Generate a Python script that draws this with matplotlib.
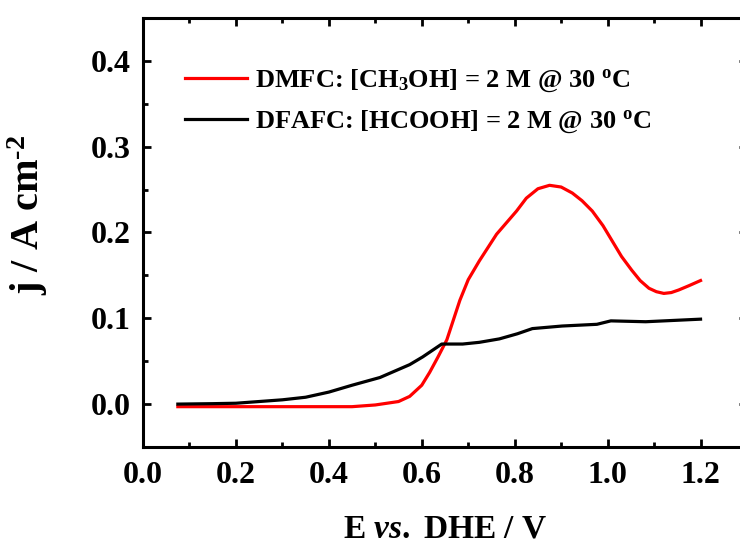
import matplotlib
matplotlib.use("Agg")
import matplotlib.pyplot as plt
from matplotlib.ticker import MultipleLocator

plt.rcParams['font.family'] = ['Liberation Serif', 'DejaVu Serif']
plt.rcParams['font.weight'] = 'bold'
plt.rcParams['axes.labelweight'] = 'bold'
plt.rcParams['mathtext.fontset'] = 'custom'
plt.rcParams['mathtext.rm'] = 'Liberation Serif:bold'
plt.rcParams['mathtext.it'] = 'Liberation Serif:italic:bold'
plt.rcParams['mathtext.bf'] = 'Liberation Serif:bold'

# DMFC (methanol) curve
e_dmfc = [0.075, 0.15, 0.25, 0.35, 0.45, 0.50, 0.55, 0.574, 0.60, 0.617, 0.635, 0.654,
          0.668, 0.682, 0.70, 0.724, 0.761, 0.804, 0.825, 0.85, 0.875, 0.90, 0.924, 0.945,
          0.967, 0.99, 1.01, 1.03, 1.052, 1.07, 1.089, 1.105, 1.121, 1.137, 1.153, 1.175, 1.20]
j_dmfc = [-0.003, -0.003, -0.003, -0.003, -0.003, -0.001, 0.003, 0.009, 0.022, 0.037, 0.055,
          0.075, 0.098, 0.121, 0.145, 0.167, 0.198, 0.225, 0.240, 0.251, 0.255, 0.253, 0.246,
          0.237, 0.225, 0.208, 0.190, 0.172, 0.156, 0.144, 0.135, 0.131, 0.129, 0.130, 0.133,
          0.138, 0.144]

# DFAFC (formic acid) curve
e_dfafc = [0.075, 0.15, 0.20, 0.25, 0.30, 0.35, 0.40, 0.45, 0.51, 0.574, 0.602, 0.643,
           0.688, 0.724, 0.767, 0.806, 0.838, 0.902, 0.977, 1.007, 1.082, 1.20]
j_dfafc = [0.0, 0.0005, 0.001, 0.003, 0.005, 0.008, 0.014, 0.022, 0.031, 0.046, 0.055, 0.070,
           0.070, 0.072, 0.076, 0.082, 0.088, 0.091, 0.093, 0.097, 0.096, 0.099]

labels = [r'DMFC: [CH$_3$OH] = 2 M @ 30 $^{\mathrm{o}}$C',
          r'DFAFC: [HCOOH] = 2 M @ 30 $^{\mathrm{o}}$C']

fig = plt.figure(figsize=(7.4, 5.47), dpi=100)
ax = fig.add_axes([143/740, 1 - 447/547, 604/740, 429/547])

ax.plot(e_dmfc, j_dmfc, color='#ff0000', lw=2.3, label=labels[0])
ax.plot(e_dfafc, j_dfafc, color='black', lw=2.3, label=labels[1])

ax.set_xlim(0, 1.3)
ax.set_ylim(-0.05, 0.45)
ax.xaxis.set_major_locator(MultipleLocator(0.2))
ax.xaxis.set_minor_locator(MultipleLocator(0.1))
ax.yaxis.set_major_locator(MultipleLocator(0.1))
ax.yaxis.set_minor_locator(MultipleLocator(0.05))
ax.tick_params(which='both', direction='in', top=True, right=True, width=2)
ax.tick_params(which='major', length=6, labelsize=23)
ax.tick_params(which='minor', length=3.6)
ax.tick_params(axis='x', pad=10)
ax.tick_params(axis='y', pad=9)
for s in ax.spines.values():
    s.set_linewidth(2.2)

ax.set_xlabel(r'E $\mathit{vs.}$ DHE / V', fontsize=24, labelpad=17)
ax.set_ylabel(r'j / A cm$^{\text{-2}}$', fontsize=29)
ax.yaxis.set_label_coords(-0.154, 0.54)

leg = ax.legend(loc='upper left', bbox_to_anchor=(185/740, 1 - 68/547),
                bbox_transform=fig.transFigure, frameon=False, fontsize=19,
                handlelength=2.35, handletextpad=0.3, labelspacing=0.55,
                borderpad=0, borderaxespad=0)

fig.savefig('out.png', dpi=100)
